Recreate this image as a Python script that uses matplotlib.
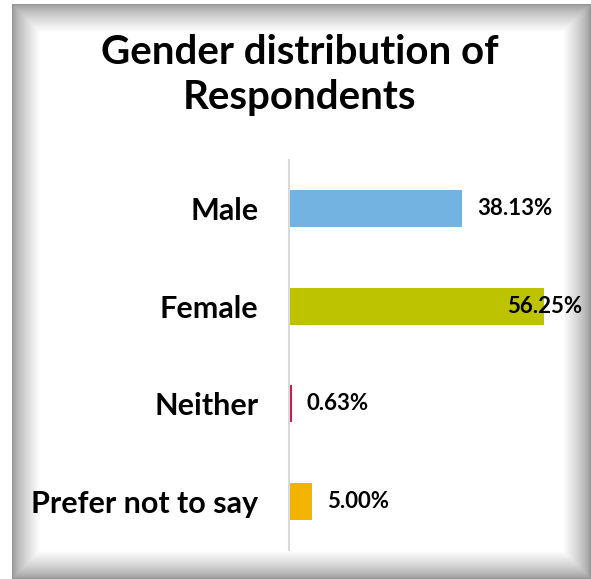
import numpy as np
import matplotlib.pyplot as plt

categories = ["Male", "Female", "Neither", "Prefer not to say"]
shares = [38.13, 56.25, 0.63, 5.00]
bar_colors = ["#72b3e1", "#bec300", "#c8194b", "#f2b400"]

plt.rcParams["font.family"] = ["Lato", "DejaVu Sans"]

W, H = 591, 579
fig = plt.figure(figsize=(W / 100, H / 100), dpi=100)

# bevelled grey frame behind everything
bg = fig.add_axes([0, 0, 1, 1])
yy, xx = np.mgrid[0:H, 0:W].astype(float)
d = np.minimum.reduce([xx - 12, yy - 4, W - 1 - xx, H - 1 - yy])
t = np.clip(d / 28.0, 0, 1)
shade = 150 + 105 * t ** 0.7
shade[(xx < 12) | (yy < 4)] = 255
bg.imshow(shade, cmap="gray", vmin=0, vmax=255, extent=(0, W, H, 0),
          aspect="auto", interpolation="bilinear")
bg.set_xlim(0, W)
bg.set_ylim(H, 0)
bg.axis("off")

fig.text(300 / W, 1 - 75 / H, "Gender distribution of\nRespondents",
         ha="center", va="center", fontsize=29, fontweight="bold",
         linespacing=1.3)

ax = fig.add_axes([289 / W, 1 - 550 / H, 272 / W, 390 / H])
ax.patch.set_alpha(0)
pos = np.arange(len(categories))
ax.barh(pos, shares, height=0.38, color=bar_colors)
ax.set_xlim(0, 60)
ax.set_ylim(len(categories) - 0.5, -0.5)
ax.set_yticks(pos)
ax.set_yticklabels(categories, fontsize=22, fontweight="bold")
ax.tick_params(axis="y", length=0, pad=22)
ax.set_xticks([])
for side in ["top", "right", "bottom"]:
    ax.spines[side].set_visible(False)
ax.spines["left"].set_color("#d9d9d9")
ax.spines["left"].set_linewidth(1.5)

for i, v in enumerate(shares):
    # long bars have their label pulled back over the bar end
    off = 15 if v < 50 else -37
    ax.annotate(f"{v:.2f}%", xy=(v, i), xytext=(off, 0),
                textcoords="offset pixels", ha="left", va="center",
                fontsize=16, fontweight="bold", annotation_clip=False)

fig.savefig("out.png", dpi=100)
